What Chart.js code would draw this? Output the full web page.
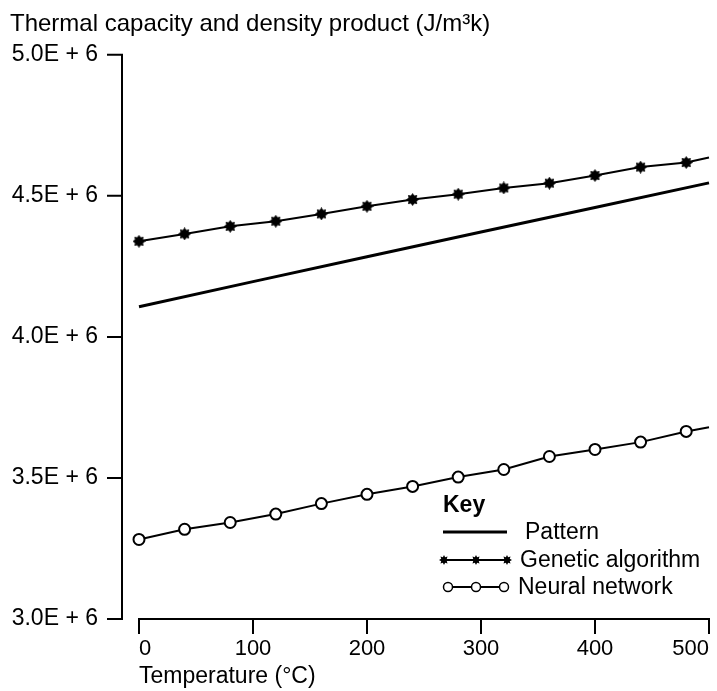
<!DOCTYPE html>
<html>
<head>
<meta charset="utf-8">
<title>Thermal capacity and density product</title>
<script src="https://cdn.jsdelivr.net/npm/chart.js@4.4.1/dist/chart.umd.min.js"></script>
<style>
    html, body { margin: 0; padding: 0; background: #fff; }
    #chart { display: block; }
</style>
</head>
<body>
<canvas id="chart" width="717" height="691"></canvas>
<script>
// Temperatures (°C) sampled by the two models; the last entry only extends the line
const modelTemps = [0, 40, 80, 120, 160, 200, 240, 280, 320, 360, 400, 440, 480, 500];
const geneticValues = [4.339e6, 4.365e6, 4.392e6, 4.410e6, 4.436e6, 4.463e6, 4.487e6,
                       4.506e6, 4.528e6, 4.545e6, 4.572e6, 4.602e6, 4.618e6, 4.636e6];
const neuralValues = [3.282e6, 3.318e6, 3.342e6, 3.372e6, 3.409e6, 3.442e6, 3.470e6,
                      3.503e6, 3.530e6, 3.576e6, 3.601e6, 3.627e6, 3.665e6, 3.680e6];

// Reference pattern
const patternTemps = [0, 100, 200, 300, 400, 500];
const patternValues = [4.107e6, 4.196e6, 4.284e6, 4.372e6, 4.459e6, 4.546e6];

const xTicks = [0, 100, 200, 300, 400, 500];
const yTicks = [3.0e6, 3.5e6, 4.0e6, 4.5e6, 5.0e6];

const seriesNames = ["Pattern", "Genetic algorithm", "Neural network"];

Chart.defaults.font.family = '"Liberation Sans", Arial, Helvetica, sans-serif';
Chart.defaults.color = "#000";

// Filled star marker used for the genetic algorithm points
function makeStar(size, inner) {
    const c = document.createElement("canvas");
    c.width = size;
    c.height = size;
    const g = c.getContext("2d");
    const r = size / 2;
    g.beginPath();
    for (let i = 0; i < 16; i++) {
        const rad = i % 2 === 0 ? r : r * inner;
        const a = (Math.PI / 8) * i - Math.PI / 2;
        g.lineTo(r + rad * Math.cos(a), r + rad * Math.sin(a));
    }
    g.closePath();
    g.fillStyle = "#000";
    g.fill();
    return c;
}
const starMark = makeStar(13, 0.68);
const smallStar = makeStar(10, 0.6);

function toPoints(xs, ys) {
    return xs.map((x, i) => ({ x: x, y: ys[i] }));
}

// No marker on the closing point of each model line
const markerRadius = modelTemps.map((t, i) => i === modelTemps.length - 1 ? 0 : 6);

// Detached axes: y axis sits left of the plot, x axis hangs its ticks downward
const detachedAxes = {
    id: "detachedAxes",
    afterDraw(chart) {
        const { ctx, chartArea, scales: { x, y } } = chart;
        const axisX = chartArea.left - 17;
        ctx.save();
        ctx.strokeStyle = "#000";
        ctx.lineWidth = 2;
        ctx.beginPath();
        ctx.moveTo(axisX, y.getPixelForValue(yTicks[yTicks.length - 1]));
        ctx.lineTo(axisX, y.getPixelForValue(yTicks[0]));
        yTicks.forEach(v => {
            const py = y.getPixelForValue(v);
            ctx.moveTo(axisX - 15, py);
            ctx.lineTo(axisX + 1, py);
        });
        const axisY = chartArea.bottom;
        ctx.moveTo(x.getPixelForValue(xTicks[0]) - 1, axisY);
        ctx.lineTo(x.getPixelForValue(xTicks[xTicks.length - 1]) + 1, axisY);
        xTicks.forEach(v => {
            const px = x.getPixelForValue(v);
            ctx.moveTo(px, axisY);
            ctx.lineTo(px, axisY + 15);
        });
        ctx.stroke();
        ctx.restore();
    }
};

// "Key" box in the lower right
const keyBox = {
    id: "keyBox",
    afterDraw(chart) {
        const ctx = chart.ctx;
        const font = Chart.defaults.font.family;
        ctx.save();
        ctx.fillStyle = "#000";
        ctx.strokeStyle = "#000";
        ctx.textAlign = "left";
        ctx.textBaseline = "alphabetic";
        ctx.font = "bold 23px " + font;
        ctx.fillText("Key", 443, 512);

        ctx.font = "23px " + font;
        ctx.textBaseline = "middle";

        // Pattern
        ctx.lineWidth = 3;
        ctx.beginPath();
        ctx.moveTo(443, 532);
        ctx.lineTo(507, 532);
        ctx.stroke();
        ctx.fillText(seriesNames[0], 525, 533);

        // Genetic algorithm
        ctx.lineWidth = 2;
        ctx.beginPath();
        ctx.moveTo(444, 560);
        ctx.lineTo(507, 560);
        ctx.stroke();
        [444, 476, 507].forEach(px => ctx.drawImage(smallStar, px - 5, 555));
        ctx.fillText(seriesNames[1], 520, 561);

        // Neural network
        ctx.beginPath();
        ctx.moveTo(448, 587);
        ctx.lineTo(504, 587);
        ctx.stroke();
        ctx.lineWidth = 1.5;
        [448, 476, 504].forEach(px => {
            ctx.beginPath();
            ctx.arc(px, 587, 4.5, 0, Math.PI * 2);
            ctx.fillStyle = "#fff";
            ctx.fill();
            ctx.stroke();
        });
        ctx.fillStyle = "#000";
        ctx.fillText(seriesNames[2], 518, 588);
        ctx.restore();
    }
};

new Chart(document.getElementById("chart"), {
    type: "line",
    data: {
        datasets: [
            {
                label: seriesNames[0],
                data: toPoints(patternTemps, patternValues),
                borderColor: "#000",
                borderWidth: 3,
                pointRadius: 0,
                tension: 0,
                clip: false
            },
            {
                label: seriesNames[1],
                data: toPoints(modelTemps, geneticValues),
                borderColor: "#000",
                borderWidth: 2,
                pointStyle: starMark,
                pointRadius: markerRadius,
                tension: 0,
                clip: false
            },
            {
                label: seriesNames[2],
                data: toPoints(modelTemps, neuralValues),
                borderColor: "#000",
                borderWidth: 2,
                pointStyle: "circle",
                pointRadius: markerRadius.map(r => r ? 5.5 : 0),
                pointBackgroundColor: "#fff",
                pointBorderColor: "#000",
                pointBorderWidth: 2,
                tension: 0,
                clip: false
            }
        ]
    },
    options: {
        responsive: false,
        animation: false,
        layout: { padding: { left: 10, right: 8, top: 0, bottom: 0 } },
        plugins: {
            legend: { display: false },
            tooltip: { enabled: false },
            title: {
                display: true,
                text: "Thermal capacity and density product (J/m³k)",
                align: "start",
                color: "#000",
                font: { size: 24, weight: "normal" },
                padding: { top: 8, bottom: 16 }
            }
        },
        scales: {
            x: {
                type: "linear",
                min: 0,
                max: 500,
                grid: { display: false, drawTicks: false },
                border: { display: false },
                ticks: {
                    stepSize: 100,
                    align: "inner",
                    padding: 17,
                    font: { size: 22 },
                    maxRotation: 0
                },
                title: {
                    display: true,
                    text: "Temperature (°C)",
                    align: "start",
                    font: { size: 23 },
                    padding: { top: 0, bottom: 1 }
                },
                afterFit(scale) {
                    scale.height = 72;
                    scale.paddingLeft = 0;
                    scale.paddingRight = 0;
                }
            },
            y: {
                min: 3.0e6,
                max: 5.0e6,
                grid: { display: false, drawTicks: false },
                border: { display: false },
                ticks: {
                    stepSize: 0.5e6,
                    padding: 41,
                    font: { size: 23 },
                    callback: v => (v / 1e6).toFixed(1) + "E + 6"
                },
                afterFit(scale) {
                    scale.width = 129;
                }
            }
        }
    },
    plugins: [detachedAxes, keyBox]
});
</script>
</body>
</html>
